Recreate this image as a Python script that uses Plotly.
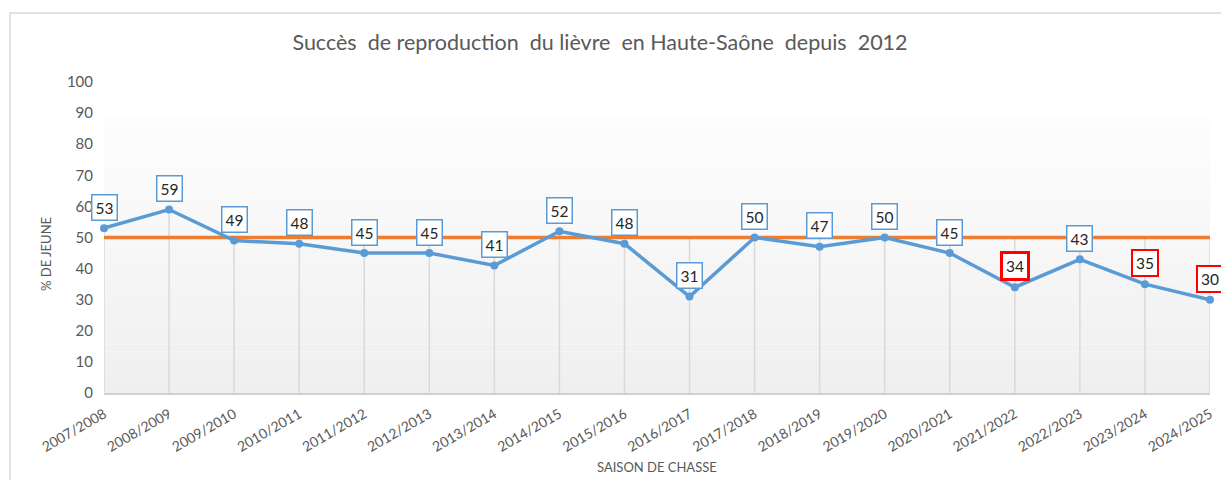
import plotly.graph_objects as go

seasons = ["2007/2008", "2008/2009", "2009/2010", "2010/2011", "2011/2012", "2012/2013",
           "2013/2014", "2014/2015", "2015/2016", "2016/2017", "2017/2018", "2018/2019",
           "2019/2020", "2020/2021", "2021/2022", "2022/2023", "2023/2024", "2024/2025"]
pct_jeunes = [53, 59, 49, 48, 45, 45, 41, 52, 48, 31, 50, 47, 50, 45, 34, 43, 35, 30]
seuil = 50
highlight = ["2021/2022", "2023/2024", "2024/2025"]
y_ticks = list(range(0, 101, 10))

W, H = 1221, 480
L, R, T, B = 104, 11, 82, 87
pw = W - L - R
ph = H - T - B
FONT = "Lato, Liberation Sans, sans-serif"

fig = go.Figure()

# gradient background of the plot area
n = 40
top = 89.0
for i in range(n):
    y0 = top * i / n
    y1 = top * (i + 1) / n
    f = i / (n - 1)
    c = int(round(239 + (253 - 239) * f))
    fig.add_shape(type="rect", xref="paper", yref="y", x0=0, x1=1, y0=y0, y1=y1,
                  fillcolor=f"rgb({c},{c},{c})", line=dict(width=0), layer="below")

# drop lines (from highest series value down to axis)
dx, dy = [], []
for s, v in zip(seasons, pct_jeunes):
    dx += [s, s, None]
    dy += [0, max(v, seuil), None]
fig.add_trace(go.Scatter(x=dx, y=dy, mode="lines", line=dict(color="#d9d9d9", width=1.5),
                         hoverinfo="skip", showlegend=False))

# threshold line
fig.add_trace(go.Scatter(x=seasons, y=[seuil] * len(seasons), mode="lines",
                         line=dict(color="#ED7D31", width=3.5), showlegend=False,
                         cliponaxis=False))

# main series
fig.add_trace(go.Scatter(x=seasons, y=pct_jeunes, mode="lines+markers",
                         line=dict(color="#5B9BD5", width=3.5),
                         marker=dict(color="#5B9BD5", size=8), showlegend=False,
                         cliponaxis=False))

# data labels
for s, v in zip(seasons, pct_jeunes):
    red = s in highlight
    bw = 3 if s == "2021/2022" else 2
    fig.add_annotation(x=s, y=v, text=str(v), showarrow=False, yshift=21,
                       font=dict(family=FONT, size=15.5, color="#262626"),
                       bgcolor="white", bordercolor="#FF0000" if red else "#5B9BD5",
                       borderwidth=bw if red else 1.5, borderpad=3)

# axis titles
fig.add_annotation(xref="paper", yref="paper", x=(46 - L) / pw, y=0.447,
                   xanchor="center", yanchor="middle",
                   text="% DE JEUNE", textangle=-90, showarrow=False,
                   font=dict(family=FONT, size=13, color="#595959"))
fig.add_annotation(xref="paper", yref="paper", x=(657 - L) / pw, y=(H - B - 467) / ph,
                   xanchor="center", yanchor="middle",
                   text="SAISON DE CHASSE", showarrow=False,
                   font=dict(family=FONT, size=13, color="#595959"))

# outer chart frame
fig.add_shape(type="rect", xref="paper", yref="paper",
              x0=(10 - L) / pw, x1=(1240 - L) / pw,
              y0=(H - B - 500) / ph, y1=(H - B - 13) / ph,
              line=dict(color="#d9d9d9", width=1.5), fillcolor="rgba(0,0,0,0)", layer="below")

fig.update_layout(
    width=W, height=H,
    margin=dict(l=L, r=R, t=T, b=B, autoexpand=False),
    paper_bgcolor="white", plot_bgcolor="white",
    title=dict(text="Succès  de reproduction  du lièvre  en Haute-Saône  depuis  2012",
               xref="container", yref="container", x=600 / W, y=1 - 42 / H,
               xanchor="center", yanchor="middle",
               font=dict(family=FONT, size=21.5, color="#595959")),
    xaxis=dict(type="category", categoryorder="array", categoryarray=seasons,
               range=[0, len(seasons) - 1], showgrid=False, showline=True,
               linecolor="#d0d0d0", linewidth=1.5, ticks="", tickangle=-30,
               automargin=False, ticklabelstandoff=6,
               tickfont=dict(family=FONT, size=14, color="#595959"),
               zeroline=False),
    yaxis=dict(range=[0, 100], tickvals=y_ticks, showgrid=False, zeroline=False,
               showline=False, ticks="", ticklabelstandoff=10, automargin=False,
               tickfont=dict(family=FONT, size=15, color="#595959")),
)

fig.write_html("out.html", config={"displayModeBar": False},
               post_script="document.body.style.margin='0';document.body.style.overflow='hidden';")
